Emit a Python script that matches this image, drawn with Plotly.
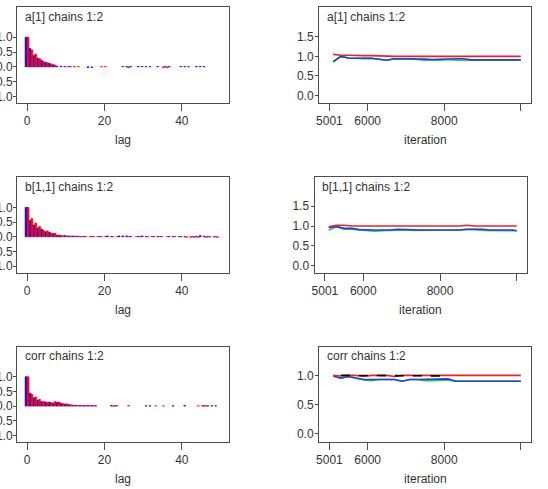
import plotly.graph_objects as go

W, H = 548, 489

# ---------------- data ----------------
lags = list(range(50))

a1_acf_chain1 = [1.0, 0.62, 0.38, 0.30, 0.22, 0.15, 0.12, 0.07, 0.02, 0.02,
                 0.015, 0.015, None, None, None, None, -0.02, -0.02, None, None,
                 None, None, None, None, None, 0.015, 0.01, 0.015, None, 0.015,
                 0.015, 0.015, 0.01, None, 0.01, None, 0.01, 0.015, None, None,
                 0.015, 0.015, 0.01, None, 0.015, 0.015, 0.015, None, None, None]
a1_acf_chain2 = [1.0, 0.57, 0.43, 0.28, 0.18, 0.14, 0.10, 0.06, None, None,
                 None, 0.015, 0.015, 0.015, None, None, None, None, None, 0.015,
                 0.015, None, None, None, None, None, -0.03, None, None, None,
                 None, None, None, None, None, -0.03, -0.03, None, None, None,
                 None, None, None, None, None, None, None, None, None, None]

b11_acf_chain1 = [1.0, 0.55, 0.40, 0.30, 0.26, 0.17, 0.15, 0.10, 0.05, 0.04,
                  0.04, 0.03, 0.03, 0.02, 0.01, 0.01, None, 0.01, None, 0.01,
                  None, 0.03, 0.01, None, 0.03, 0.03, 0.03, 0.02, None, 0.01,
                  0.03, 0.01, None, 0.01, 0.01, 0.01, None, 0.01, 0.01, None,
                  0.01, 0.01, None, 0.01, 0.02, 0.04, 0.02, 0.01, None, 0.01]
b11_acf_chain2 = [1.0, 0.62, 0.47, 0.35, 0.22, 0.20, 0.13, 0.12, 0.06, 0.03,
                  0.03, 0.02, 0.02, 0.02, 0.01, 0.01, 0.01, 0.01, 0.01, 0.01,
                  0.01, None, 0.01, 0.01, None, None, 0.01, None, 0.01, 0.01,
                  None, 0.01, 0.01, None, 0.01, None, 0.01, None, 0.01, 0.01,
                  None, -0.02, -0.02, -0.02, -0.02, None, -0.02, -0.01, -0.01, -0.02]

corr_acf_chain1 = [1.0, 0.44, 0.28, 0.20, 0.15, 0.14, 0.14, 0.10, 0.12, 0.10,
                   0.07, 0.05, 0.03, 0.02, 0.02, 0.01, 0.02, 0.02, 0.01, None,
                   None, None, 0.02, 0.01, None, None, None, None, None, None,
                   None, 0.01, 0.01, None, None, None, None, None, 0.01, None,
                   None, 0.02, None, None, None, None, 0.01, 0.01, 0.01, 0.01]
corr_acf_chain2 = [1.0, 0.40, 0.31, 0.23, 0.16, 0.13, 0.12, 0.16, 0.14, 0.09,
                   0.08, 0.05, 0.03, 0.02, 0.02, 0.02, 0.01, 0.01, None, None,
                   None, None, 0.01, 0.02, None, None, 0.02, None, None, None,
                   None, None, None, 0.01, None, 0.01, None, None, None, None,
                   None, None, None, None, 0.01, 0.01, 0.01, None, None, None]

iterations = [5100, 5300, 5500, 5700, 5900, 6100, 6300, 6500, 6700, 6900,
              7100, 7300, 7500, 7700, 7900, 8100, 8300, 8500, 8700, 8900,
              9100, 9300, 9500, 9700, 9900, 10000]

a1_ratio = [1.05, 1.03, 1.03, 1.02, 1.02, 1.02, 1.01, 1.0, 1.0, 1.0,
            1.0, 1.0, 1.0, 1.0, 1.0, 1.0, 1.0, 1.0, 1.0, 1.0,
            1.0, 1.0, 1.0, 1.0, 1.0, 1.0]
a1_within = [0.86, 1.0, 0.96, 0.95, 0.95, 0.95, 0.92, 0.90, 0.94, 0.94,
             0.94, 0.94, 0.93, 0.92, 0.93, 0.94, 0.94, 0.94, 0.91, 0.91,
             0.91, 0.91, 0.91, 0.91, 0.91, 0.91]
a1_pooled = [0.87, 1.0, 0.96, 0.95, 0.95, 0.95, 0.92, 0.90, 0.94, 0.94,
             0.94, 0.92, 0.90, 0.90, 0.90, 0.92, 0.90, 0.90, 0.91, 0.91,
             0.91, 0.91, 0.91, 0.91, 0.91, 0.91]

b11_ratio = [0.98, 1.02, 1.02, 1.0, 1.0, 1.0, 1.0, 1.0, 1.0, 1.0,
             1.0, 1.0, 1.0, 1.0, 1.0, 1.0, 1.0, 1.0, 1.02, 1.0,
             1.0, 1.0, 1.0, 1.0, 1.0, 1.0]
b11_within = [0.96, 0.99, 0.94, 0.94, 0.91, 0.90, 0.90, 0.90, 0.90, 0.92,
              0.91, 0.90, 0.90, 0.90, 0.90, 0.90, 0.90, 0.90, 0.92, 0.92,
              0.92, 0.90, 0.90, 0.90, 0.90, 0.88]
b11_pooled = [0.89, 0.98, 0.92, 0.92, 0.90, 0.88, 0.87, 0.88, 0.89, 0.90,
              0.90, 0.89, 0.89, 0.89, 0.89, 0.89, 0.90, 0.90, 0.91, 0.91,
              0.89, 0.89, 0.89, 0.89, 0.89, 0.88]

corr_ratio = [1.0, 0.99, 1.0, 1.0, 0.98, 1.0, 1.0, 1.0, 0.98, 1.0,
              1.0, 1.0, 1.0, 1.0, 1.0, 1.0, 1.0, 1.0, 1.0, 1.0,
              1.0, 1.0, 1.0, 1.0, 1.0, 1.0]
corr_ratio_b = [None, 1.0, 1.0, 1.0, 1.0, 1.0, 1.0, 1.0, 1.0, 1.0,
                0.99, 0.99, 0.99, 0.99, 0.99, 0.99, None, None, None, None,
                None, None, None, None, None, None]
corr_within = [0.99, 0.95, 0.98, 0.95, 0.93, 0.93, 0.93, 0.93, 0.93, 0.90,
               0.93, 0.93, 0.93, 0.93, 0.93, 0.94, 0.90, 0.90, 0.90, 0.90,
               0.90, 0.90, 0.90, 0.90, 0.90, 0.90]
corr_pooled = [0.99, 0.95, 0.98, 0.95, 0.92, 0.91, 0.93, 0.93, 0.93, 0.90,
               0.93, 0.93, 0.91, 0.91, 0.91, 0.92, 0.90, 0.90, 0.90, 0.90,
               0.90, 0.90, 0.90, 0.90, 0.90, 0.90]

titles = ["a[1] chains 1:2", "b[1,1] chains 1:2", "corr chains 1:2"]

# ---------------- layout geometry (pixels) ----------------
rows_top = [7, 177.3, 346.7]
rows_bot = [103, 272.7, 442]
left_box = (17, 229)
right_boxes = [(319, 531), (314.5, 527), (319, 531)]

FONT = "Liberation Sans, Arial, sans-serif"
LINEC = "#4d4d4d"
TXT = "#333333"

fig = go.Figure()

acf_sets = [(a1_acf_chain1, a1_acf_chain2),
            (b11_acf_chain1, b11_acf_chain2),
            (corr_acf_chain1, corr_acf_chain2)]
bgr_sets = [(a1_ratio, a1_within, a1_pooled, None),
            (b11_ratio, b11_within, b11_pooled, None),
            (corr_ratio, corr_within, corr_pooled, corr_ratio_b)]
right_yranges = [[-0.19, 2.26], [-0.17, 2.22], [-0.14, 1.49]]
right_yticks = [[0, 0.5, 1.0, 1.5], [0, 0.5, 1.0, 1.5], [0, 0.5, 1.0]]

annotations = []

def px_x(v):
    return v / W

def px_y(v):
    return 1 - v / H

for r in range(3):
    ia = 2 * r + 1   # left axis index
    ib = 2 * r + 2   # right axis index
    c1, c2 = acf_sets[r]
    xa = "x" if ia == 1 else f"x{ia}"
    ya = "y" if ia == 1 else f"y{ia}"
    xb = f"x{ib}"
    yb = f"y{ib}"

    fig.add_trace(go.Bar(x=lags, y=c1, xaxis=xa, yaxis=ya, offset=-0.5, width=0.5,
                         marker=dict(color="#0000ff", line=dict(color="#0000ff", width=0.6)),
                         showlegend=False))
    fig.add_trace(go.Bar(x=lags, y=c2, xaxis=xa, yaxis=ya, offset=0.0, width=0.5,
                         marker=dict(color="#ff0000", line=dict(color="#ff0000", width=0.6)),
                         showlegend=False))

    ratio, within, pooled, ratio_b = bgr_sets[r]
    fig.add_trace(go.Scatter(x=iterations, y=pooled, xaxis=xb, yaxis=yb, mode="lines",
                             line=dict(color="#22cc44", width=1.6), showlegend=False))
    fig.add_trace(go.Scatter(x=iterations, y=within, xaxis=xb, yaxis=yb, mode="lines",
                             line=dict(color="#1f3fe0", width=1.6), showlegend=False))
    fig.add_trace(go.Scatter(x=iterations, y=ratio, xaxis=xb, yaxis=yb, mode="lines",
                             line=dict(color="#ee2222", width=1.6), showlegend=False))
    if ratio_b is not None:
        fig.add_trace(go.Scatter(x=iterations, y=ratio_b, xaxis=xb, yaxis=yb, mode="lines",
                                 line=dict(color="#000000", width=1.6, dash="dash"),
                                 showlegend=False))

    ydom = [px_y(rows_bot[r]), px_y(rows_top[r])]
    common = dict(showline=True, mirror=True, linecolor=LINEC, linewidth=1,
                  showgrid=False, zeroline=False, ticks="outside", tickcolor=LINEC,
                  tickfont=dict(family=FONT, size=12, color=TXT), fixedrange=True,
                  automargin=False)

    fig.layout[("xaxis" if ia == 1 else f"xaxis{ia}")] = dict(
        common, domain=[px_x(left_box[0]), px_x(left_box[1])], anchor=ya,
        range=[-2.6, 52.2], tickvals=[0, 20, 40], ticktext=["0", "20", "40"],
        ticklen=7, tickwidth=1)
    fig.layout[("yaxis" if ia == 1 else f"yaxis{ia}")] = dict(
        common, domain=ydom, anchor=xa, range=[-1.22, 2.02],
        tickvals=[-1, -0.5, 0, 0.5, 1.0], ticktext=["-1.0", "-0.5", "0.0", "0.5", "1.0"],
        ticklen=3, tickwidth=1, ticklabelstandoff=-2)
    rb = right_boxes[r]
    fig.layout[f"xaxis{ib}"] = dict(
        common, domain=[px_x(rb[0]), px_x(rb[1])], anchor=yb,
        range=[4730, 10267], tickvals=[5001, 6000, 8000, 10000],
        ticktext=["5001", "6000", "8000", ""], ticklen=7, tickwidth=1)
    fig.layout[f"yaxis{ib}"] = dict(
        common, domain=ydom, anchor=xb, range=right_yranges[r],
        tickvals=right_yticks[r], ticktext=[f"{v:.1f}" for v in right_yticks[r]],
        ticklen=3, tickwidth=1, ticklabelstandoff=-1)

    # panel titles
    for bx in (left_box[0], rb[0]):
        annotations.append(dict(text=titles[r], x=px_x(bx + 5.7), y=px_y(rows_top[r] + 9.7),
                                xref="paper", yref="paper", xanchor="left", yanchor="middle",
                                showarrow=False, font=dict(family=FONT, size=12, color=TXT)))
    # axis titles
    annotations.append(dict(text="lag", x=px_x((left_box[0] + left_box[1]) / 2),
                            y=px_y(rows_bot[r] + 37), xref="paper", yref="paper",
                            xanchor="center", yanchor="middle", showarrow=False,
                            font=dict(family=FONT, size=12, color=TXT)))
    annotations.append(dict(text="iteration", x=px_x((rb[0] + rb[1]) / 2),
                            y=px_y(rows_bot[r] + 37), xref="paper", yref="paper",
                            xanchor="center", yanchor="middle", showarrow=False,
                            font=dict(family=FONT, size=12, color=TXT)))

fig.update_layout(width=W, height=H, margin=dict(l=0, r=0, t=0, b=0),
                  paper_bgcolor="white", plot_bgcolor="white", barmode="overlay",
                  annotations=annotations, showlegend=False)

fig.write_html("out.html")
